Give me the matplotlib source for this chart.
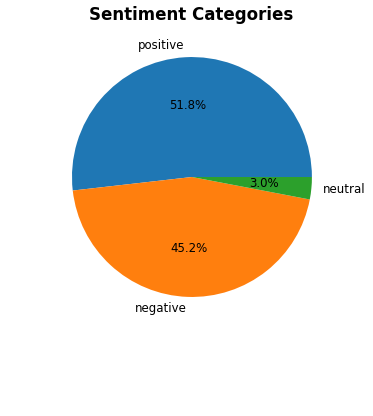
import matplotlib
matplotlib.use('Agg')
from matplotlib import pyplot as plt

# sentiment shares
categories = ['positive', 'negative', 'neutral']
shares = [51.8, 45.2, 3.0]

fig = plt.figure(figsize=(3.73, 4.16), dpi=100)
ax = fig.add_axes([0.1126, 0.214, 0.804, 0.721])
ax.pie(shares, labels=categories, autopct='%1.1f%%',
       textprops={'fontsize': 8.5})
ax.set_xlim(-1.25, 1.25)
ax.set_ylim(-1.25, 1.25)
ax.set_aspect('equal')
fig.text(0.513, 0.964, 'Sentiment Categories', ha='center', va='center',
         fontsize=12, fontweight='bold')

fig.savefig('out.png', dpi=100)
